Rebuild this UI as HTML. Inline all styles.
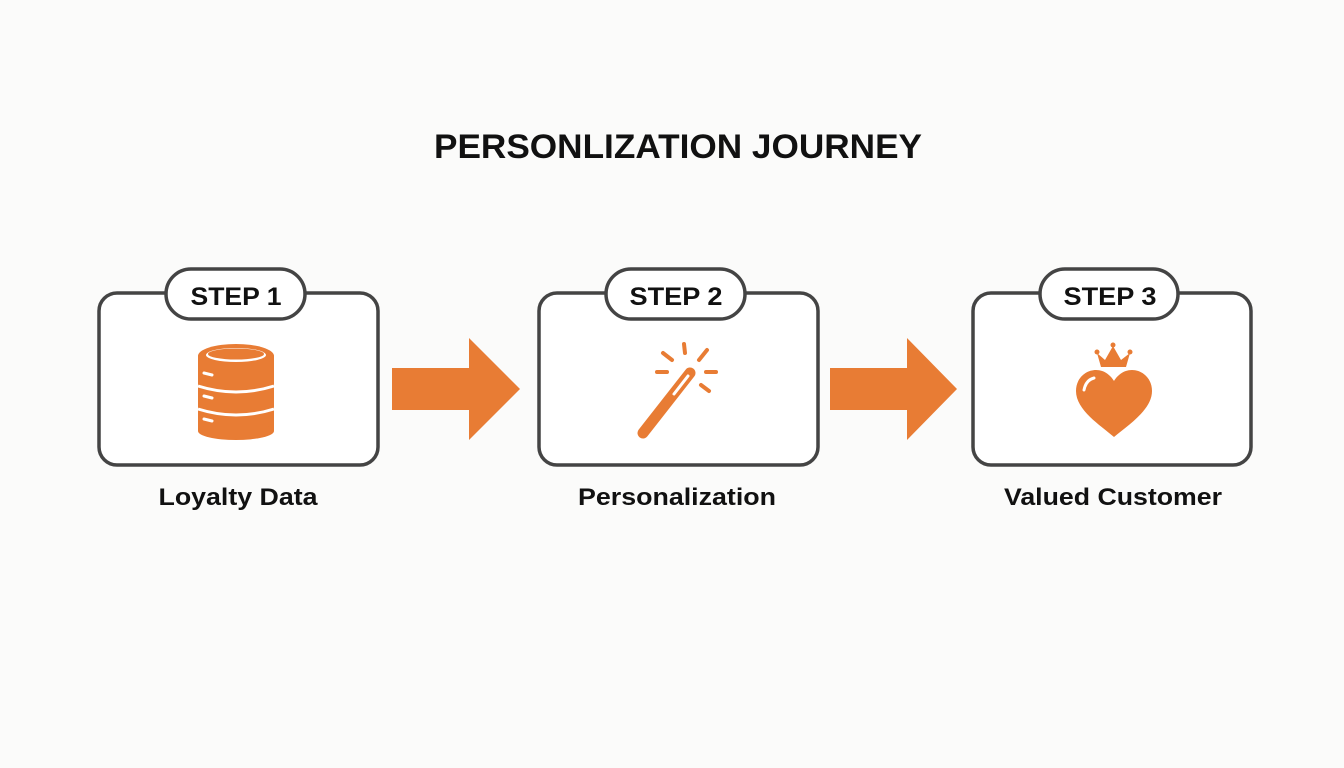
<!DOCTYPE html>
<html><head><meta charset="utf-8"><style>
html,body{margin:0;padding:0;background:#fbfbfa;}
svg{display:block}
text{font-family:"Liberation Sans",Arial,sans-serif;font-weight:bold;fill:#111}
</style></head><body>
<svg width="1344" height="768" viewBox="0 0 1344 768">
<rect width="1344" height="768" fill="#fbfbfa"/>
<text x="678" y="158" font-size="34" text-anchor="middle" textLength="488" lengthAdjust="spacingAndGlyphs">PERSONLIZATION JOURNEY</text>
<g fill="#fff" stroke="#444" stroke-width="3.5">
<rect x="99" y="293" width="279" height="172" rx="18"/>
<rect x="539" y="293" width="279" height="172" rx="18"/>
<rect x="973" y="293" width="278" height="172" rx="18"/>
<rect x="166" y="269" width="139" height="50" rx="25"/>
<rect x="606" y="269" width="139" height="50" rx="25"/>
<rect x="1040" y="269" width="138" height="50" rx="25"/>
</g>
<text x="236" y="305" font-size="25" text-anchor="middle" textLength="91" lengthAdjust="spacingAndGlyphs">STEP 1</text>
<text x="676" y="305" font-size="25" text-anchor="middle" textLength="93" lengthAdjust="spacingAndGlyphs">STEP 2</text>
<text x="1110" y="305" font-size="25" text-anchor="middle" textLength="93" lengthAdjust="spacingAndGlyphs">STEP 3</text>
<g fill="#e87c34">
<polygon points="392,368 469,368 469,338 520,389 469,440 469,410 392,410"/>
<polygon points="830,368 907,368 907,338 957,389 907,440 907,410 830,410"/>
</g>
<!-- database -->
<g fill="#e87c34">
<rect x="198" y="356" width="76" height="75" />
<ellipse cx="236" cy="431" rx="38" ry="9"/>
<ellipse cx="236" cy="356" rx="38" ry="12"/>
</g>
<ellipse cx="236" cy="355" rx="30" ry="7" fill="#fff"/>
<ellipse cx="236" cy="354" rx="28" ry="5.5" fill="#e87c34"/>
<g fill="none" stroke="#fff" stroke-width="3">
<path d="M198 386 Q236 398 274 386"/>
<path d="M198 409 Q236 421 274 409"/>
</g>
<g stroke="#fff" stroke-width="3" stroke-linecap="round">
<line x1="204" y1="373" x2="212" y2="375"/>
<line x1="204" y1="396" x2="212" y2="398"/>
<line x1="204" y1="419" x2="212" y2="421"/>
</g>
<!-- wand -->
<g stroke="#e87c34" stroke-linecap="round">
<line x1="643" y1="433" x2="690" y2="373" stroke-width="11"/>
<g stroke-width="4">
<line x1="684" y1="344" x2="685" y2="353"/>
<line x1="663" y1="353" x2="672" y2="360"/>
<line x1="657" y1="372" x2="667" y2="372"/>
<line x1="707" y1="350" x2="699" y2="360"/>
<line x1="706" y1="372" x2="716" y2="372"/>
<line x1="701" y1="385" x2="709" y2="391"/>
</g>
</g>
<line x1="688" y1="376" x2="674" y2="394" stroke="#fff" stroke-width="3" stroke-linecap="round"/>
<!-- heart & crown -->
<g fill="#e87c34">
<polygon points="1097,353 1105,360 1113,346 1121,360 1130,353 1126,367 1101,367"/>
<circle cx="1097" cy="352" r="2.5"/><circle cx="1113" cy="345" r="2.5"/><circle cx="1130" cy="352" r="2.5"/>
<path d="M1114 437 C1100 425 1076 410 1076 391 C1076 378 1086 370 1096 370 C1105 370 1111 376 1114 381 C1117 376 1123 370 1132 370 C1142 370 1152 378 1152 391 C1152 410 1128 425 1114 437 Z"/>
</g>
<path d="M1084 390 Q1086 380 1094 378" fill="none" stroke="#fff" stroke-width="3" stroke-linecap="round"/>
<text x="238" y="505" font-size="24" text-anchor="middle" textLength="159" lengthAdjust="spacingAndGlyphs">Loyalty Data</text>
<text x="677" y="505" font-size="24" text-anchor="middle" textLength="198" lengthAdjust="spacingAndGlyphs">Personalization</text>
<text x="1113" y="505" font-size="24" text-anchor="middle" textLength="218" lengthAdjust="spacingAndGlyphs">Valued Customer</text>
</svg>
</body></html>
